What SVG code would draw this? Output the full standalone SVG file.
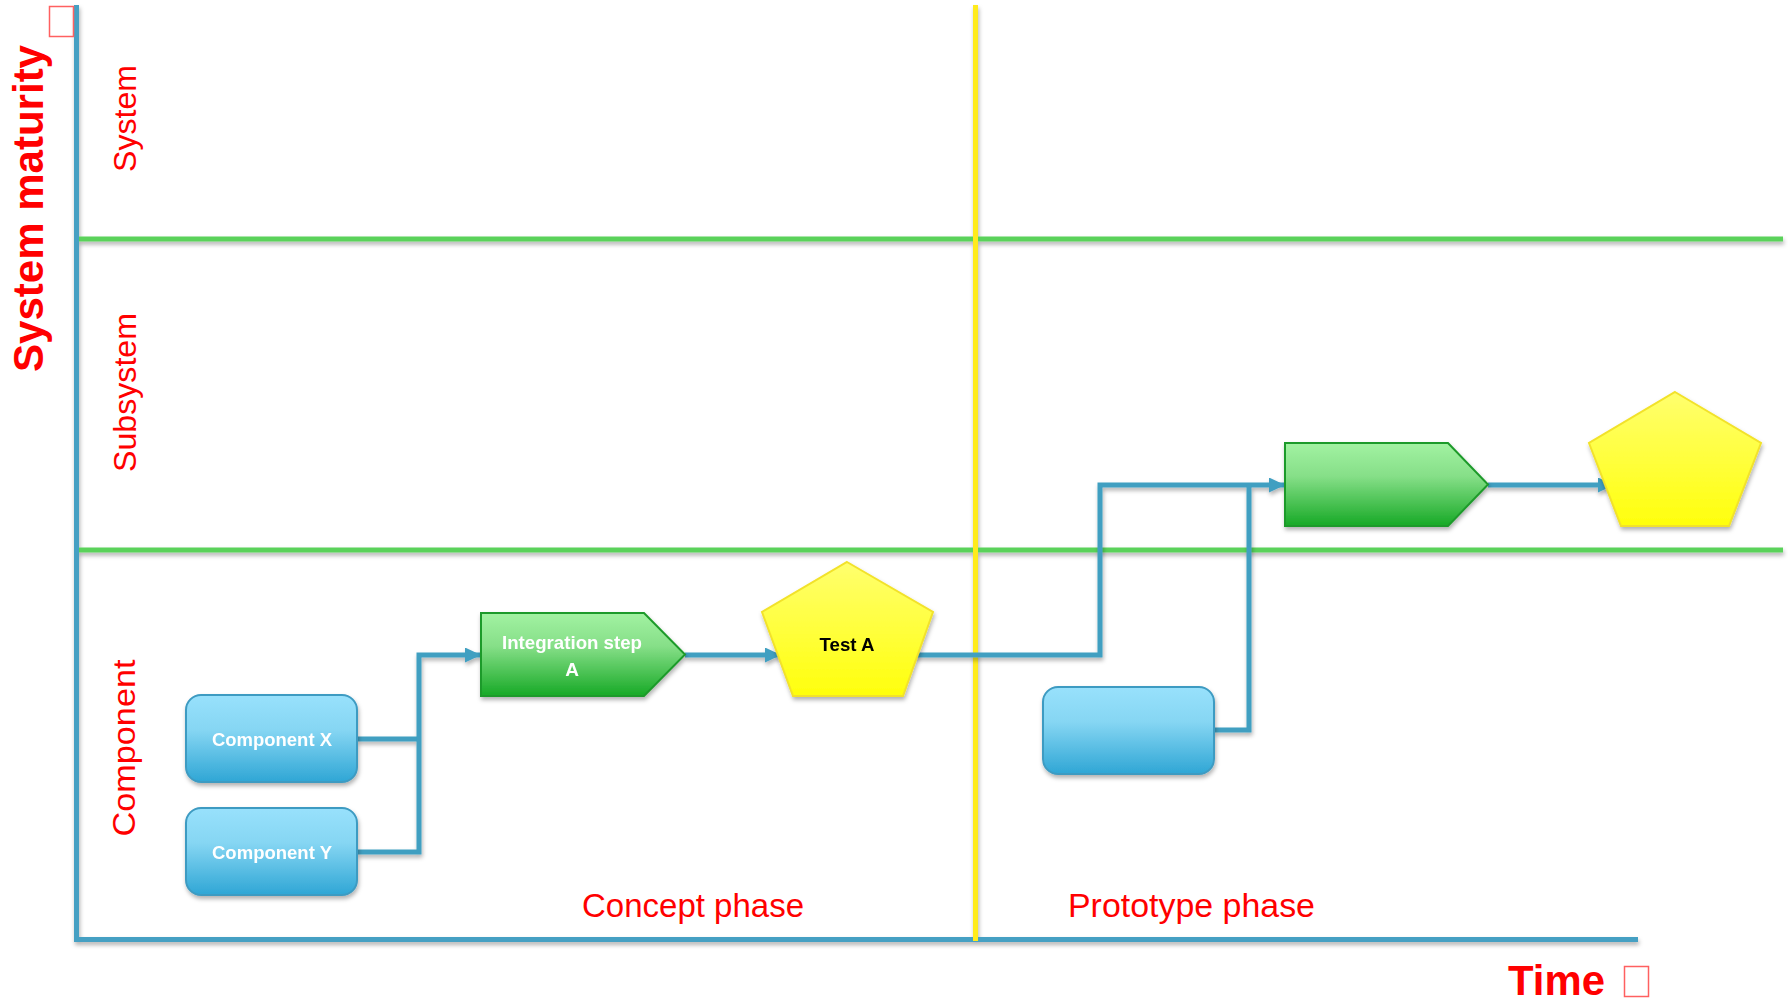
<svg xmlns="http://www.w3.org/2000/svg" width="1788" height="1002" viewBox="0 0 1788 1002">
<style>
.red{fill:#ff0000;font-family:"Liberation Sans",Arial,sans-serif}
.lbl{font-size:32px}
.phase{font-size:33px}
.big{font-size:42px;font-weight:bold}
.wt{fill:#ffffff;font-family:"Liberation Sans",Arial,sans-serif;font-size:19px;font-weight:bold;text-anchor:middle}
.bk{fill:#000000;font-family:"Liberation Sans",Arial,sans-serif;font-size:19px;font-weight:bold;text-anchor:middle}
.conn{fill:none;stroke:#3f9fc1;stroke-width:5;stroke-linejoin:miter}
.blue{fill:url(#gBlue);stroke:#3e9bc2;stroke-width:2}
.green{fill:url(#gGreen);stroke:#1e9a2a;stroke-width:2}
.yellow{fill:url(#gYellow);stroke:#f2e22a;stroke-width:2}
.sq{fill:none;stroke:#ff6060;stroke-width:1.5}
</style>
<defs>
<linearGradient id="gBlue" x1="0" y1="0" x2="0" y2="1">
<stop offset="0" stop-color="#98e1fc"/><stop offset="0.4" stop-color="#86d6f3"/><stop offset="1" stop-color="#2fa6d5"/>
</linearGradient>
<linearGradient id="gGreen" x1="0" y1="0" x2="0" y2="1">
<stop offset="0" stop-color="#a2f2a2"/><stop offset="0.4" stop-color="#86df88"/><stop offset="1" stop-color="#17a926"/>
</linearGradient>
<linearGradient id="gYellow" x1="0" y1="0" x2="0" y2="1">
<stop offset="0" stop-color="#ffff6e"/><stop offset="1" stop-color="#ffff0c"/>
</linearGradient>
<filter id="sh" x="-10%" y="-10%" width="120%" height="130%">
<feDropShadow dx="1" dy="3" stdDeviation="2" flood-color="#000" flood-opacity="0.3"/>
</filter>
<marker id="arr" markerUnits="userSpaceOnUse" markerWidth="16" markerHeight="15" refX="16" refY="7.5" orient="auto">
<path d="M0,0 L16,7.5 L0,15 z" fill="#3f9fc1"/>
</marker>
</defs>
<rect width="1788" height="1002" fill="#ffffff"/>

<g id="grid" filter="url(#sh)">
<line x1="76" y1="239" x2="1783" y2="239" stroke="#5ad25a" stroke-width="5"/>
<line x1="76" y1="550" x2="1783" y2="550" stroke="#5ad25a" stroke-width="5"/>
<line x1="76.5" y1="5" x2="76.5" y2="942" stroke="#44a0c3" stroke-width="5"/>
<line x1="76" y1="939.5" x2="1638" y2="939.5" stroke="#44a0c3" stroke-width="5"/>
<line x1="975.5" y1="5" x2="975.5" y2="941" stroke="#ffeb1f" stroke-width="5"/>
</g>

<g id="labels">
<text class="red big" transform="translate(43,208.5) rotate(-90)" text-anchor="middle" textLength="327" lengthAdjust="spacingAndGlyphs">System maturity</text>
<rect class="sq" x="49.5" y="6.5" width="24" height="30"/>
<text class="red lbl" transform="translate(136,118.5) rotate(-90)" text-anchor="middle" textLength="107" lengthAdjust="spacingAndGlyphs">System</text>
<text class="red lbl" transform="translate(136,392.5) rotate(-90)" text-anchor="middle" textLength="159" lengthAdjust="spacingAndGlyphs">Subsystem</text>
<text class="red lbl" transform="translate(135,748) rotate(-90)" text-anchor="middle" textLength="177" lengthAdjust="spacingAndGlyphs">Component</text>
<text class="red phase" x="582" y="917" textLength="222" lengthAdjust="spacingAndGlyphs">Concept phase</text>
<text class="red phase" x="1068" y="917" textLength="247" lengthAdjust="spacingAndGlyphs">Prototype phase</text>
<text class="red big" x="1508" y="995" textLength="97" lengthAdjust="spacingAndGlyphs">Time</text>
<rect class="sq" x="1624.5" y="966.5" width="24" height="30"/>
</g>

<g id="connectors" filter="url(#sh)">
<path class="conn" d="M357,739 H419"/>
<path class="conn" d="M357,852 H419 V655 H481" marker-end="url(#arr)"/>
<path class="conn" d="M685,655 H781" marker-end="url(#arr)"/>
<path class="conn" d="M914,655 H1100 V485 H1285" marker-end="url(#arr)"/>
<path class="conn" d="M1214,730 H1249 V485"/>
<path class="conn" d="M1488,485 H1614" marker-end="url(#arr)"/>
</g>

<g id="componentX" filter="url(#sh)">
<rect class="blue" x="186" y="695" width="171" height="87" rx="15"/>
<text class="wt" x="272" y="746" textLength="120" lengthAdjust="spacingAndGlyphs">Component X</text>
</g>
<g id="componentY" filter="url(#sh)">
<rect class="blue" x="186" y="808" width="171" height="87" rx="15"/>
<text class="wt" x="272" y="859" textLength="120" lengthAdjust="spacingAndGlyphs">Component Y</text>
</g>
<g id="integrationA" filter="url(#sh)">
<polygon class="green" points="481,613 644,613 685,654.5 644,696 481,696"/>
<text class="wt" x="572" y="649" textLength="140" lengthAdjust="spacingAndGlyphs">Integration step</text>
<text class="wt" x="572" y="676">A</text>
</g>
<g id="testA" filter="url(#sh)">
<polygon class="yellow" points="847,562 933,612 903,696 793,696 762,612"/>
<text class="bk" x="847" y="651" textLength="55" lengthAdjust="spacingAndGlyphs">Test A</text>
</g>
<g id="component3" filter="url(#sh)">
<rect class="blue" x="1043" y="687" width="171" height="87" rx="15"/>
</g>
<g id="integration2" filter="url(#sh)">
<polygon class="green" points="1285,443 1448,443 1488,484.5 1448,526 1285,526"/>
</g>
<g id="test2" filter="url(#sh)">
<polygon class="yellow" points="1675,392 1761,443 1729,526 1621,526 1589,443"/>
</g>
</svg>
